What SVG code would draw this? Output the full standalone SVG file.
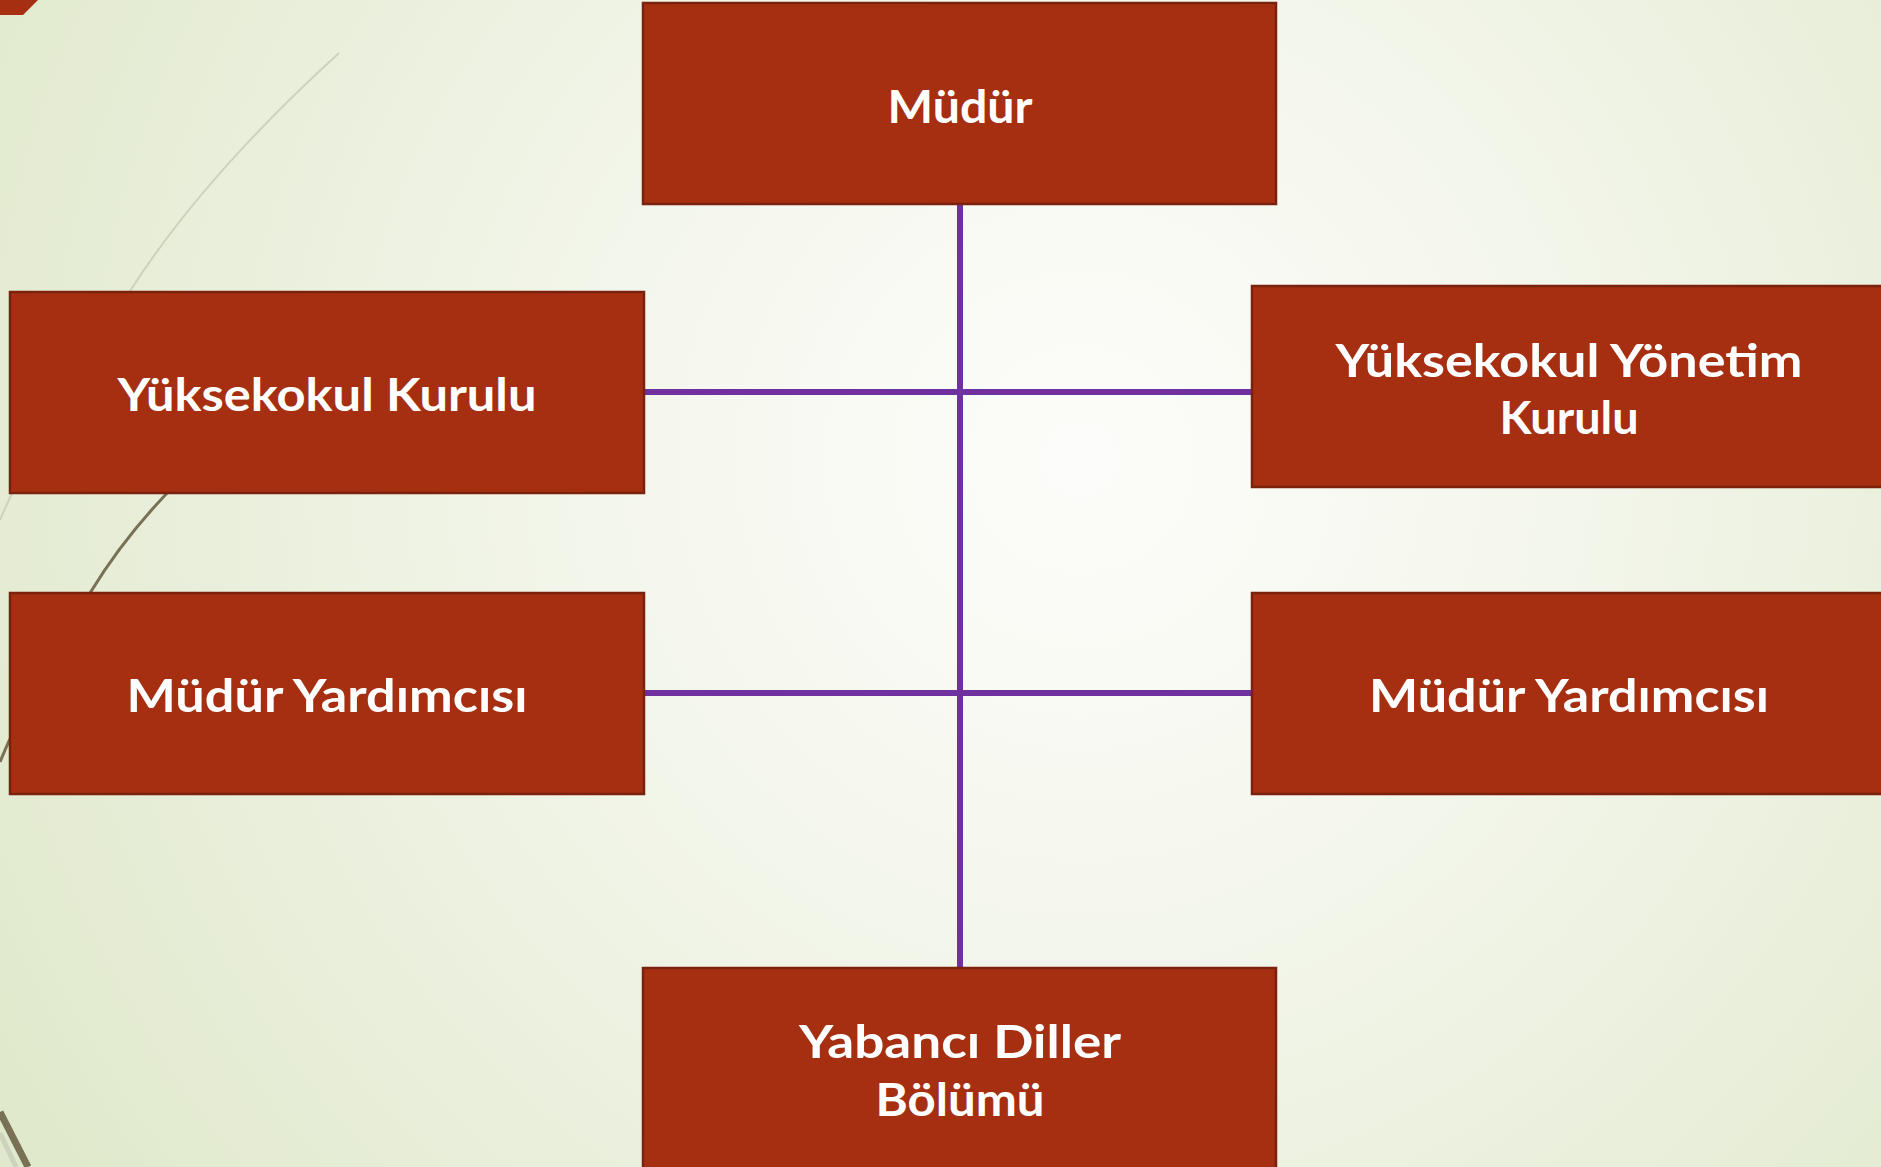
<svg xmlns="http://www.w3.org/2000/svg" width="1881" height="1167" viewBox="0 0 1881 1167">
  <defs>
    <radialGradient id="bg" gradientUnits="userSpaceOnUse" cx="1080" cy="460" r="1250">
      <stop offset="0" stop-color="#FCFDFA"/>
      <stop offset="0.3" stop-color="#F6F8EF"/>
      <stop offset="0.65" stop-color="#EBF0DE"/>
      <stop offset="1" stop-color="#E0E9CB"/>
    </radialGradient>
    <style>
      .box { fill: #A52F10; stroke: #7A220D; stroke-width: 2.5; }
      .lbl { fill: #FFFFFF; font-family: "Lato", "Liberation Sans", sans-serif; font-weight: 700; font-size: 45px; text-anchor: middle; }
      .conn { stroke: #7030A0; stroke-width: 6; stroke-linecap: round; fill: none; }
      .wisp-light { stroke: #CDD2BC; fill: none; }
      .wisp-dark { stroke: #787155; fill: none; }
    </style>
  </defs>

  <rect x="0" y="0" width="1881" height="1167" fill="url(#bg)"/>

  <g id="background-decor">
    <polygon points="0,0 38,0 23,15 0,15" fill="#A52F10"/>
    <path class="wisp-light" stroke-width="2" d="M339,53 C260,125 185,205 130,291 S 25,460 0,520"/>
    <path class="wisp-dark" stroke-width="3" d="M176,484 C140,520 112,557 90,593 S 25,700 0,762"/>
    <path class="wisp-light" stroke-width="5" d="M0,1133 L16,1167"/>
    <path class="wisp-dark" stroke-width="7" d="M0,1112 L28,1167"/>
  </g>

  <g id="connectors">
    <line class="conn" x1="960" y1="202" x2="960" y2="968"/>
    <line class="conn" x1="644" y1="392" x2="1254" y2="392"/>
    <line class="conn" x1="644" y1="693" x2="1254" y2="693"/>
  </g>

  <g id="node-mudur">
    <rect class="box" x="643" y="3" width="633" height="201"/>
    <text class="lbl" x="960" y="123" textLength="145" lengthAdjust="spacingAndGlyphs">Müdür</text>
  </g>

  <g id="node-yuksekokul-kurulu">
    <rect class="box" x="10" y="292" width="634" height="201"/>
    <text class="lbl" x="327" y="411" textLength="419" lengthAdjust="spacingAndGlyphs">Yüksekokul Kurulu</text>
  </g>

  <g id="node-yuksekokul-yonetim-kurulu">
    <rect class="box" x="1252" y="286" width="640" height="201"/>
    <text class="lbl" x="1569" y="377" textLength="467" lengthAdjust="spacingAndGlyphs">Yüksekokul Yönetim</text>
    <text class="lbl" x="1569" y="434" textLength="139" lengthAdjust="spacingAndGlyphs">Kurulu</text>
  </g>

  <g id="node-mudur-yardimcisi-left">
    <rect class="box" x="10" y="593" width="634" height="201"/>
    <text class="lbl" x="327" y="712" textLength="401" lengthAdjust="spacingAndGlyphs">Müdür Yardımcısı</text>
  </g>

  <g id="node-mudur-yardimcisi-right">
    <rect class="box" x="1252" y="593" width="640" height="201"/>
    <text class="lbl" x="1569" y="712" textLength="400" lengthAdjust="spacingAndGlyphs">Müdür Yardımcısı</text>
  </g>

  <g id="node-yabanci-diller">
    <rect class="box" x="643" y="968" width="633" height="210"/>
    <text class="lbl" x="960" y="1058" textLength="322" lengthAdjust="spacingAndGlyphs">Yabancı Diller</text>
    <text class="lbl" x="960" y="1116" textLength="169" lengthAdjust="spacingAndGlyphs">Bölümü</text>
  </g>
</svg>
